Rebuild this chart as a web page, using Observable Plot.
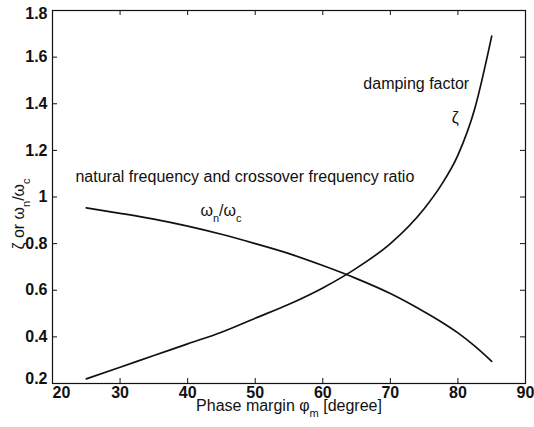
<!DOCTYPE html>
<html><head><meta charset="utf-8">
<script src="https://cdn.jsdelivr.net/npm/d3@7"></script>
<script src="https://cdn.jsdelivr.net/npm/@observablehq/plot@0.6"></script>
<style>
body{margin:0;background:#fff}
svg{font-family:"Liberation Sans",Arial,Helvetica,sans-serif}
</style>
</head><body><div id="chart"></div>
<script>
// Data
const phaseMargin   = [25, 30, 35, 40, 45, 50, 55, 60, 65, 70, 75, 77.5, 80, 82.5, 85];
const dampingFactor = [0.22, 0.27, 0.32, 0.37, 0.42, 0.48, 0.54, 0.61, 0.695, 0.80, 0.95, 1.05, 1.18, 1.38, 1.69];
const freqRatio     = [0.953, 0.93, 0.905, 0.875, 0.84, 0.80, 0.757, 0.706, 0.65, 0.586, 0.508, 0.465, 0.417, 0.36, 0.295];
const xTicks = [20, 30, 40, 50, 60, 70, 80, 90];
const yTicks = [0.2, 0.4, 0.6, 0.8, 1.0, 1.2, 1.4, 1.6, 1.8];
const yTickLabels = ["0.2", "0.4", "0.6", "0.8", "1", "1.2", "1.4", "1.6", "1.8"];

const rows = phaseMargin.map((p, i) => ({phase: p, zeta: dampingFactor[i], ratio: freqRatio[i]}));

const W = 534, H = 427, mL = 52, mR = 9, mT = 10, mB = 44;
const innerW = W - mL - mR, innerH = H - mT - mB, tick = 5;
const fmtY = d => yTickLabels[yTicks.findIndex(v => Math.abs(v - d) < 1e-9)];
const tickFont = {fontSize: 16, fontWeight: "bold", fill: "#111"};

const plot = Plot.plot({
  width: W, height: H,
  marginLeft: mL, marginRight: mR, marginTop: mT, marginBottom: mB,
  x: {domain: [20, 90], label: null},
  y: {domain: [0.2, 1.8], label: null},
  style: {fontFamily: "Liberation Sans, Arial, sans-serif", background: "#fff", color: "#111"},
  marks: [
    // inward tick marks on all four sides
    Plot.tickX(xTicks, {x: d => d, insetTop: innerH - tick, stroke: "#111"}),
    Plot.tickX(xTicks, {x: d => d, insetBottom: innerH - tick, stroke: "#111"}),
    Plot.tickY(yTicks, {y: d => d, insetRight: innerW - tick, stroke: "#111"}),
    Plot.tickY(yTicks, {y: d => d, insetLeft: innerW - tick, stroke: "#111"}),
    Plot.frame({stroke: "#111", strokeWidth: 1.2}),
    // tick labels
    Plot.axisX(xTicks.slice(1), {tickSize: 0, tickPadding: 3, label: null, ...tickFont}),
    Plot.axisX(xTicks.slice(0, 1), {tickSize: 0, tickPadding: 3, label: null, dx: 9, ...tickFont}),
    Plot.axisY(yTicks.slice(1, -1), {tickSize: 0, tickPadding: 5, label: null, tickFormat: fmtY, ...tickFont}),
    Plot.axisY(yTicks.slice(0, 1), {tickSize: 0, tickPadding: 5, label: null, tickFormat: fmtY, dy: -5, ...tickFont}),
    Plot.axisY(yTicks.slice(-1), {tickSize: 0, tickPadding: 5, label: null, tickFormat: fmtY, dy: 3, ...tickFont}),
    // curves
    Plot.line(rows, {x: "phase", y: "zeta", curve: "monotone-x", stroke: "#111", strokeWidth: 1.7}),
    Plot.line(rows, {x: "phase", y: "ratio", curve: "monotone-x", stroke: "#111", strokeWidth: 1.7}),
    // annotations
    Plot.text(["damping factor"], {x: 66.0, y: 1.487, textAnchor: "start", fontSize: 16, fill: "#111"}),
    Plot.text(["ζ"], {x: 79.6, y: 1.34, textAnchor: "middle", fontSize: 16, fill: "#111"}),
    Plot.text(["natural frequency and crossover frequency ratio"], {x: 23.4, y: 1.085, textAnchor: "start", fontSize: 16, fill: "#111"}),
    Plot.text(["ω_n/ω_c"], {x: 41.9, y: 0.942, textAnchor: "start", fontSize: 16, fill: "#111"}),
    // axis titles
    Plot.text(["Phase margin φ_m [degree]"], {frameAnchor: "bottom", textAnchor: "middle", lineAnchor: "middle", dy: 22, fontSize: 16, fill: "#111"}),
    Plot.text(["ζ or ω_n/ω_c"], {frameAnchor: "left", textAnchor: "middle", lineAnchor: "middle", dx: -34, dy: 17, rotate: -90, fontSize: 16, fill: "#111"})
  ]
});

// subscripts: "_x" -> smaller, lowered letter
plot.querySelectorAll("text").forEach(t => {
  const s = t.textContent;
  if (!s.includes("_")) return;
  const parts = s.split(/_(.)/);
  t.textContent = "";
  let shifted = false;
  parts.forEach((p, i) => {
    if (!p) return;
    const ts = document.createElementNS("http://www.w3.org/2000/svg", "tspan");
    ts.textContent = p;
    if (i % 2 === 1) {
      ts.setAttribute("font-size", "11");
      ts.setAttribute("dy", "6");
      shifted = true;
    } else if (shifted) {
      ts.setAttribute("dy", "-6");
      shifted = false;
    }
    t.appendChild(ts);
  });
});

document.getElementById("chart").appendChild(plot);
</script>
</body></html>
